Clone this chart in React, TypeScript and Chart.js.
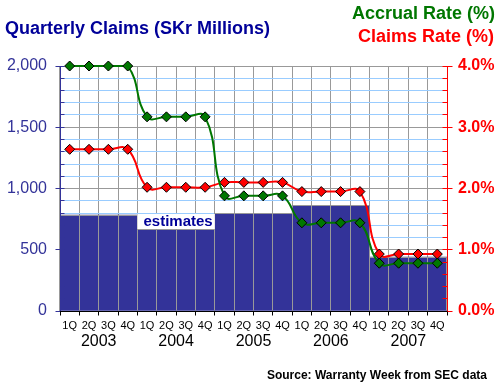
import React, { useEffect, useRef } from 'react';
import { Chart, registerables } from 'chart.js';

Chart.register(...registerables);

// ---------- data ----------
const quarterLabels = [
  '1Q', '2Q', '3Q', '4Q',
  '1Q', '2Q', '3Q', '4Q',
  '1Q', '2Q', '3Q', '4Q',
  '1Q', '2Q', '3Q', '4Q',
  '1Q', '2Q', '3Q', '4Q',
];
const yearLabels = ['2003', '2004', '2005', '2006', '2007'];

// Quarterly claims, SKr millions (left axis)
const claimsMillions = [
  783, 783, 783, 783,
  666, 666, 666, 666,
  797, 797, 797, 797,
  862, 862, 862, 862,
  440, 440, 440, 440,
];
// Accrual rate, % (right axis)
const accrualRate = [
  4.0, 4.0, 4.0, 4.0,
  3.17, 3.17, 3.17, 3.17,
  1.88, 1.88, 1.88, 1.88,
  1.44, 1.44, 1.44, 1.44,
  0.78, 0.78, 0.78, 0.78,
];
// Claims rate, % (right axis)
const claimsRate = [
  2.64, 2.64, 2.64, 2.64,
  2.02, 2.02, 2.02, 2.02,
  2.1, 2.1, 2.1, 2.1,
  1.95, 1.95, 1.95, 1.95,
  0.93, 0.93, 0.93, 0.93,
];

const titleText = 'Quarterly Claims (SKr Millions)';
const accrualLegend = 'Accrual Rate (%)';
const claimsLegend = 'Claims Rate (%)';
const sourceText = 'Source: Warranty Week from SEC data';
const estimatesText = 'estimates';
const estimatesFrom = 4;
const estimatesTo = 7;

// ---------- styles ----------
const FONT = '"Liberation Sans", Arial, Helvetica, sans-serif';
const NAVY = '#000099';
const AXIS_NAVY = '#333399';
const BAR = '#333399';
const GREEN = '#007700';
const RED = '#ff0000';
const GRID_GRAY = '#999999';
const GRID_BLUE = '#99ccff';

const al = (p: number) => Math.round(p - 0.5) + 0.5;

const decorPlugin = {
  id: 'decor',
  afterDatasetDraw(chart: any, args: any) {
    if (args.index !== 2) return;
    const ctx = chart.ctx;
    const meta = chart.getDatasetMeta(2);
    ctx.save();
    ctx.strokeStyle = GRID_GRAY;
    ctx.lineWidth = 1;
    ctx.beginPath();
    meta.data.forEach((el: any) => {
      const { x, y, base, width } = el.getProps(['x', 'y', 'base', 'width'], true);
      const l = al(x - width / 2);
      const r = al(x + width / 2);
      ctx.moveTo(l, y);
      ctx.lineTo(l, base);
      ctx.moveTo(r, y);
      ctx.lineTo(r, base);
      ctx.moveTo(l, al(y));
      ctx.lineTo(r, al(y));
    });
    ctx.stroke();

    // estimates label box
    const a = meta.data[estimatesFrom].getProps(['x', 'y', 'width'], true);
    const b = meta.data[estimatesTo].getProps(['x', 'y', 'width'], true);
    const bl = a.x - a.width / 2;
    const br = b.x + b.width / 2;
    const bb = Math.round(a.y);
    ctx.fillStyle = '#ffffff';
    ctx.fillRect(bl, bb - 15, br - bl, 15);
    ctx.fillStyle = NAVY;
    ctx.font = `bold 15px ${FONT}`;
    ctx.textAlign = 'center';
    ctx.textBaseline = 'alphabetic';
    ctx.fillText(estimatesText, (bl + br) / 2 + 2, bb - 3);
    ctx.restore();
  },
  afterDraw(chart: any) {
    const ctx = chart.ctx;
    const area = chart.chartArea;
    const xS = chart.scales.x;
    const yL = chart.scales.y;
    const yR = chart.scales.y1;
    ctx.save();
    ctx.lineWidth = 1;

    // left axis
    const lx = al(area.left);
    ctx.strokeStyle = AXIS_NAVY;
    ctx.beginPath();
    ctx.moveTo(lx, area.top);
    ctx.lineTo(lx, area.bottom);
    yL.ticks.forEach((t: any) => {
      const y = al(yL.getPixelForValue(t.value));
      if (t.value % 500 === 0) {
        ctx.moveTo(lx - 5, y);
        ctx.lineTo(lx + 4, y);
      } else {
        ctx.moveTo(lx, y);
        ctx.lineTo(lx + 4, y);
      }
    });
    ctx.stroke();

    // right axis
    const rx = al(area.right);
    ctx.strokeStyle = RED;
    ctx.beginPath();
    ctx.moveTo(rx, area.top);
    ctx.lineTo(rx, area.bottom);
    yR.ticks.forEach((t: any) => {
      const y = al(yR.getPixelForValue(t.value));
      const major = Math.abs(t.value - Math.round(t.value)) < 1e-6;
      ctx.moveTo(rx - 5, y);
      ctx.lineTo(major ? rx + 5 : rx, y);
    });
    ctx.stroke();

    // bottom axis
    const by = al(area.bottom);
    ctx.strokeStyle = '#000000';
    ctx.beginPath();
    ctx.moveTo(area.left, by);
    ctx.lineTo(area.right, by);
    const n = quarterLabels.length;
    for (let i = 0; i <= n; i++) {
      const x = al(xS.getPixelForValue(i - 0.5));
      ctx.moveTo(x, by);
      ctx.lineTo(x, by + 4);
    }
    ctx.stroke();

    // year labels
    ctx.fillStyle = '#000000';
    ctx.font = `16px ${FONT}`;
    ctx.textAlign = 'center';
    ctx.textBaseline = 'alphabetic';
    yearLabels.forEach((yr, k) => {
      ctx.fillText(yr, xS.getPixelForValue(4 * k + 1.5), 345.5);
    });

    // title
    ctx.font = `bold 18px ${FONT}`;
    ctx.textAlign = 'left';
    ctx.fillStyle = NAVY;
    ctx.fillText(titleText, 5, 34);

    // legend texts
    ctx.textAlign = 'right';
    ctx.fillStyle = GREEN;
    ctx.fillText(accrualLegend, 495, 18.5);
    ctx.fillStyle = RED;
    ctx.fillText(claimsLegend, 494, 42);

    // source
    ctx.font = `bold 12px ${FONT}`;
    ctx.fillStyle = '#000000';
    ctx.fillText(sourceText, 487, 379);

    ctx.restore();
  },
};

export default function App() {
  const ref = useRef<HTMLCanvasElement | null>(null);

  useEffect(() => {
    if (!ref.current) return;
    const chart = new Chart(ref.current, {
      type: 'bar',
      data: {
        labels: quarterLabels,
        datasets: [
          {
            type: 'line',
            label: accrualLegend,
            data: accrualRate,
            yAxisID: 'y1',
            borderColor: GREEN,
            borderWidth: 2,
            backgroundColor: GREEN,
            pointStyle: 'rectRot',
            pointRadius: 5,
            pointBorderColor: '#000000',
            pointBorderWidth: 1,
            pointBackgroundColor: GREEN,
            tension: 0.45,
            clip: false,
            order: 0,
          } as any,
          {
            type: 'line',
            label: claimsLegend,
            data: claimsRate,
            yAxisID: 'y1',
            borderColor: RED,
            borderWidth: 2,
            backgroundColor: RED,
            pointStyle: 'rectRot',
            pointRadius: 5,
            pointBorderColor: '#000000',
            pointBorderWidth: 1,
            pointBackgroundColor: RED,
            tension: 0.45,
            clip: false,
            order: 1,
          } as any,
          {
            type: 'bar',
            label: titleText,
            data: claimsMillions,
            yAxisID: 'y',
            backgroundColor: BAR,
            borderWidth: 0,
            categoryPercentage: 1,
            barPercentage: 1,
            order: 10,
          } as any,
        ],
      },
      options: {
        responsive: false,
        animation: false,
        devicePixelRatio: 1,
        layout: { padding: { top: 66, left: 0, right: 0, bottom: 0 } },
        plugins: {
          legend: { display: false },
          tooltip: { enabled: false },
          title: { display: false },
        },
        scales: {
          x: {
            type: 'category',
            offset: true,
            grid: {
              offset: true,
              color: GRID_GRAY,
              lineWidth: 1,
              drawTicks: false,
            },
            border: { display: false },
            ticks: {
              autoSkip: false,
              maxRotation: 0,
              minRotation: 0,
              padding: 8,
              color: '#000000',
              font: { family: FONT, size: 11 },
            },
            afterFit: (s: any) => {
              s.height = 74;
            },
          },
          y: {
            type: 'linear',
            position: 'left',
            min: 0,
            max: 2000,
            grid: {
              color: (c: any) => (c.tick && c.tick.value % 500 === 0 ? GRID_GRAY : GRID_BLUE),
              lineWidth: 1,
              drawTicks: false,
            },
            border: { display: false },
            ticks: {
              stepSize: 100,
              autoSkip: false,
              padding: 13,
              color: AXIS_NAVY,
              font: { family: FONT, size: 16 },
              callback: (v: any) => (Number(v) % 500 === 0 ? Number(v).toLocaleString('en-US') : ''),
            },
            afterFit: (s: any) => {
              s.width = 60;
            },
          },
          y1: {
            type: 'linear',
            position: 'right',
            min: 0,
            max: 4,
            grid: { display: false, drawOnChartArea: false, drawTicks: false },
            border: { display: false },
            ticks: {
              stepSize: 0.2,
              autoSkip: false,
              padding: 11,
              color: RED,
              font: { family: FONT, size: 16, weight: 'bold' },
              callback: (v: any) => {
                const n = Number(v);
                return Math.abs(n - Math.round(n)) < 1e-6 ? n.toFixed(1) + '%' : '';
              },
            },
            afterFit: (s: any) => {
              s.width = 53;
            },
          },
        },
      },
      plugins: [decorPlugin],
    } as any);
    return () => chart.destroy();
  }, []);

  return (
    <div style={{ position: 'fixed', left: 0, top: 0, width: 500, height: 385, background: '#ffffff' }}>
      <canvas ref={ref} width={500} height={385} style={{ display: 'block', width: 500, height: 385 }} />
    </div>
  );
}
